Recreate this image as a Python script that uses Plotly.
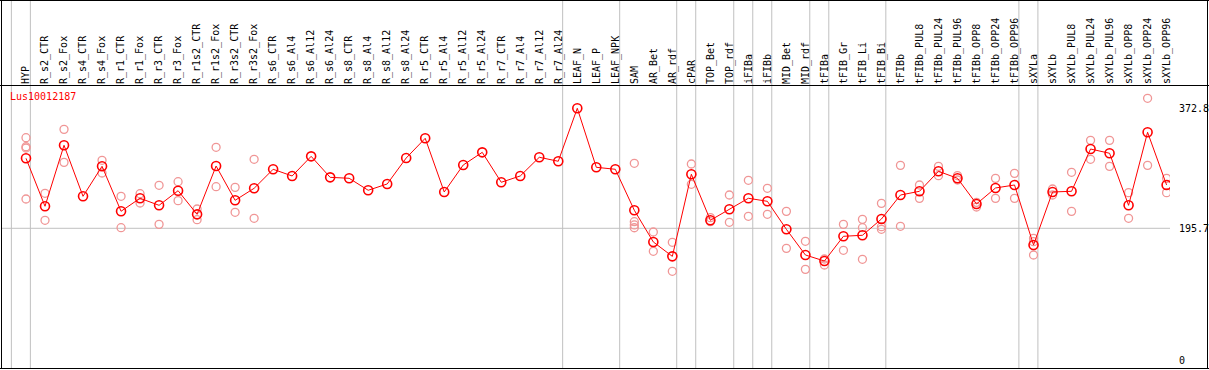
import plotly.graph_objects as go

categories = ["HYP", "R_s2_CTR", "R_s2_Fox", "R_s4_CTR", "R_s4_Fox", "R_r1_CTR", "R_r1_Fox",
              "R_r3_CTR", "R_r3_Fox", "R_r1s2_CTR", "R_r1s2_Fox", "R_r3s2_CTR", "R_r3s2_Fox",
              "R_s6_CTR", "R_s6_Al4", "R_s6_Al12", "R_s6_Al24", "R_s8_CTR", "R_s8_Al4",
              "R_s8_Al12", "R_s8_Al24", "R_r5_CTR", "R_r5_Al4", "R_r5_Al12", "R_r5_Al24",
              "R_r7_CTR", "R_r7_Al4", "R_r7_Al12", "R_r7_Al24", "LEAF_N", "LEAF_P", "LEAF_NPK",
              "SAM", "AR_Bet", "AR_rdf", "cPAR", "TOP_Bet", "TOP_rdf", "iFIBa", "iFIBb",
              "MID_Bet", "MID_rdf", "tFIBa", "tFIB_Gr", "tFIB_Li", "tFIB_Bi", "tFIBb",
              "tFIBb_PUL8", "tFIBb_PUL24", "tFIBb_PUL96", "tFIBb_OPP8", "tFIBb_OPP24",
              "tFIBb_OPP96", "sXYLa", "sXYLb", "sXYLb_PUL8", "sXYLb_PUL24", "sXYLb_PUL96",
              "sXYLb_OPP8", "sXYLb_OPP24", "sXYLb_OPP96"]

mean_values = [299.0, 228.2, 318.2, 242.9, 287.2, 220.8, 240.0, 229.6, 251.2, 216.3, 287.6,
               237.0, 254.7, 282.8, 272.9, 301.9, 270.9, 269.5, 251.8, 261.1, 299.4, 328.5,
               249.3, 289.1, 307.8, 263.6, 272.9, 300.5, 294.6, 372.8, 285.7, 282.8, 222.3,
               175.5, 154.3, 275.4, 207.5, 223.7, 240.0, 235.5, 194.2, 156.3, 147.4, 183.9,
               185.4, 209.4, 244.8, 250.3, 279.8, 269.5, 231.6, 255.2, 259.6, 171.0, 249.3,
               250.3, 312.7, 306.4, 229.6, 337.4, 259.6]

# replicate samples (category name, value)
replicate_cats = ["HYP", "HYP", "HYP", "HYP",
                  "R_s2_CTR", "R_s2_CTR", "R_s2_Fox", "R_s2_Fox", "R_s4_Fox", "R_s4_Fox",
                  "R_r1_CTR", "R_r1_CTR", "R_r1_Fox", "R_r1_Fox", "R_r3_CTR", "R_r3_CTR",
                  "R_r3_Fox", "R_r3_Fox", "R_r1s2_CTR", "R_r1s2_CTR", "R_r1s2_Fox", "R_r1s2_Fox",
                  "R_r3s2_CTR", "R_r3s2_CTR", "R_r3s2_Fox", "R_r3s2_Fox",
                  "SAM", "SAM", "SAM", "SAM", "AR_Bet", "AR_Bet", "AR_rdf", "AR_rdf",
                  "cPAR", "cPAR", "TOP_Bet", "TOP_Bet", "TOP_rdf", "TOP_rdf", "iFIBa", "iFIBa",
                  "iFIBb", "iFIBb", "MID_Bet", "MID_Bet", "MID_rdf", "MID_rdf", "tFIBa", "tFIBa",
                  "tFIB_Gr", "tFIB_Gr", "tFIB_Li", "tFIB_Li", "tFIB_Li",
                  "tFIB_Bi", "tFIB_Bi", "tFIB_Bi", "tFIBb", "tFIBb",
                  "tFIBb_PUL8", "tFIBb_PUL8", "tFIBb_PUL24", "tFIBb_PUL24",
                  "tFIBb_PUL96", "tFIBb_PUL96", "tFIBb_OPP8", "tFIBb_OPP8",
                  "tFIBb_OPP24", "tFIBb_OPP24", "tFIBb_OPP96", "tFIBb_OPP96",
                  "sXYLa", "sXYLa", "sXYLa", "sXYLb", "sXYLb",
                  "sXYLb_PUL8", "sXYLb_PUL8", "sXYLb_PUL24", "sXYLb_PUL24",
                  "sXYLb_PUL96", "sXYLb_PUL96", "sXYLb_OPP8", "sXYLb_OPP8",
                  "sXYLb_OPP24", "sXYLb_OPP24", "sXYLb_OPP96", "sXYLb_OPP96"]
replicate_values = [329.4, 316.1, 314.2, 238.9,
                    247.3, 207.5, 341.7, 293.0, 296.0, 277.3,
                    242.9, 196.6, 246.8, 233.0, 259.1, 201.5,
                    264.5, 236.5, 224.2, 208.4, 315.2, 257.1,
                    256.1, 219.3, 297.5, 210.4,
                    291.6, 205.4, 200.6, 196.5, 190.2, 161.7, 175.0, 132.2,
                    290.6, 260.6, 211.4, 205.5, 244.8, 204.5, 266.5, 213.4,
                    254.7, 216.3, 220.7, 166.1, 176.5, 135.1, 150.4, 141.5,
                    201.5, 163.2, 208.9, 196.6, 149.9,
                    232.5, 198.1, 194.2, 288.6, 198.6,
                    259.6, 239.9, 287.1, 273.4,
                    273.4, 267.0, 234.0, 227.1,
                    269.4, 239.9, 276.8, 239.9,
                    180.9, 175.9, 156.3, 253.7, 244.8,
                    278.3, 220.7, 325.5, 297.5,
                    325.5, 287.1, 248.3, 210.4,
                    387.5, 288.6, 269.4, 248.3]

# group separators placed after these category names
separator_after = ["HYP", "R_r7_Al24", "LEAF_NPK", "AR_rdf", "cPAR", "TOP_rdf", "iFIBa",
                   "iFIBb", "MID_rdf", "tFIBa", "tFIB_Bi", "tFIBb_OPP96", "sXYLa", "sXYLb_OPP96"]

y_tick_values = [372.8, 195.7, 0]
series_name = "Lus10012187"

idx = {c: i for i, c in enumerate(categories)}
W, H = 1209, 370
ML, MR, MT, MB = 2, 39, 85, 2
PW = W - ML - MR
PH = H - MT - MB

X0, X1 = -1.2625, -1.2625 + PW / 19.01
Y0, Y1 = -10.48, -10.48 + PH / 0.6776

def px_x(px):
    return (px - ML) / PW

def px_y(py):
    return (H - MB - py) / PH

fig = go.Figure()

fig.add_trace(go.Scatter(
    x=[idx[c] for c in replicate_cats], y=replicate_values, mode="markers",
    marker=dict(symbol="circle-open", size=8, color="rgb(240,150,150)",
                line=dict(width=1.3, color="rgb(240,150,150)")),
    showlegend=False, hoverinfo="skip"))

fig.add_trace(go.Scatter(
    x=list(range(len(categories))), y=mean_values, mode="lines+markers",
    line=dict(color="red", width=1),
    marker=dict(symbol="circle-open", size=9, color="red",
                line=dict(width=1.6, color="red")),
    name=series_name, showlegend=False))

shapes = []
grey = "#c0c0c0"
seps = [-1] + [idx[c] for c in separator_after]
for s in seps:
    shapes.append(dict(type="line", xref="x", yref="paper", x0=s + 0.23, x1=s + 0.23,
                       y0=0, y1=px_y(0), line=dict(color=grey, width=1), layer="below"))
# horizontal grid at middle value
shapes.append(dict(type="line", xref="paper", yref="y", x0=0, x1=1,
                   y0=y_tick_values[1], y1=y_tick_values[1],
                   line=dict(color=grey, width=1), layer="below"))
# frame lines
black = "black"
shapes.append(dict(type="line", xref="paper", yref="paper", x0=px_x(0), x1=px_x(W),
                   y0=px_y(85.5), y1=px_y(85.5), line=dict(color=black, width=1)))
shapes.append(dict(type="line", xref="paper", yref="paper", x0=px_x(0), x1=px_x(W),
                   y0=px_y(0.5), y1=px_y(0.5), line=dict(color=black, width=1)))
shapes.append(dict(type="line", xref="paper", yref="paper", x0=px_x(0), x1=px_x(W),
                   y0=px_y(368.5), y1=px_y(368.5), line=dict(color=black, width=1)))
shapes.append(dict(type="line", xref="paper", yref="paper", x0=px_x(1.5), x1=px_x(1.5),
                   y0=px_y(0), y1=px_y(369), line=dict(color=black, width=1)))
shapes.append(dict(type="line", xref="paper", yref="paper", x0=px_x(1207.5), x1=px_x(1207.5),
                   y0=px_y(0), y1=px_y(369), line=dict(color=black, width=1)))

annotations = []
for v in y_tick_values:
    annotations.append(dict(xref="paper", yref="y", x=px_x(1177), y=v, text=str(v),
                            xanchor="left", yanchor="middle", showarrow=False,
                            font=dict(family="DejaVu Sans Mono", size=10, color="black")))
annotations.append(dict(xref="paper", yref="paper", x=px_x(8), y=px_y(97), text=series_name,
                        xanchor="left", yanchor="middle", showarrow=False,
                        font=dict(family="DejaVu Sans Mono", size=10, color="red")))

fig.update_layout(
    width=W, height=H, margin=dict(l=ML, r=MR, t=MT, b=MB, pad=0),
    paper_bgcolor="white", plot_bgcolor="white",
    xaxis=dict(range=[X0, X1], side="top", tickmode="array",
               tickvals=list(range(len(categories))), ticktext=categories,
               tickangle=-90, ticks="", showgrid=False, zeroline=False, showline=False,
               tickfont=dict(family="DejaVu Sans Mono", size=10, color="black"),
               automargin=False, fixedrange=True),
    yaxis=dict(range=[Y0, Y1], showticklabels=False, ticks="", showgrid=False,
               zeroline=False, showline=False, automargin=False, fixedrange=True),
    shapes=shapes, annotations=annotations, showlegend=False,
)

fig.write_html("out.html", config={"displayModeBar": False},
               post_script="document.body.style.margin='0';")
